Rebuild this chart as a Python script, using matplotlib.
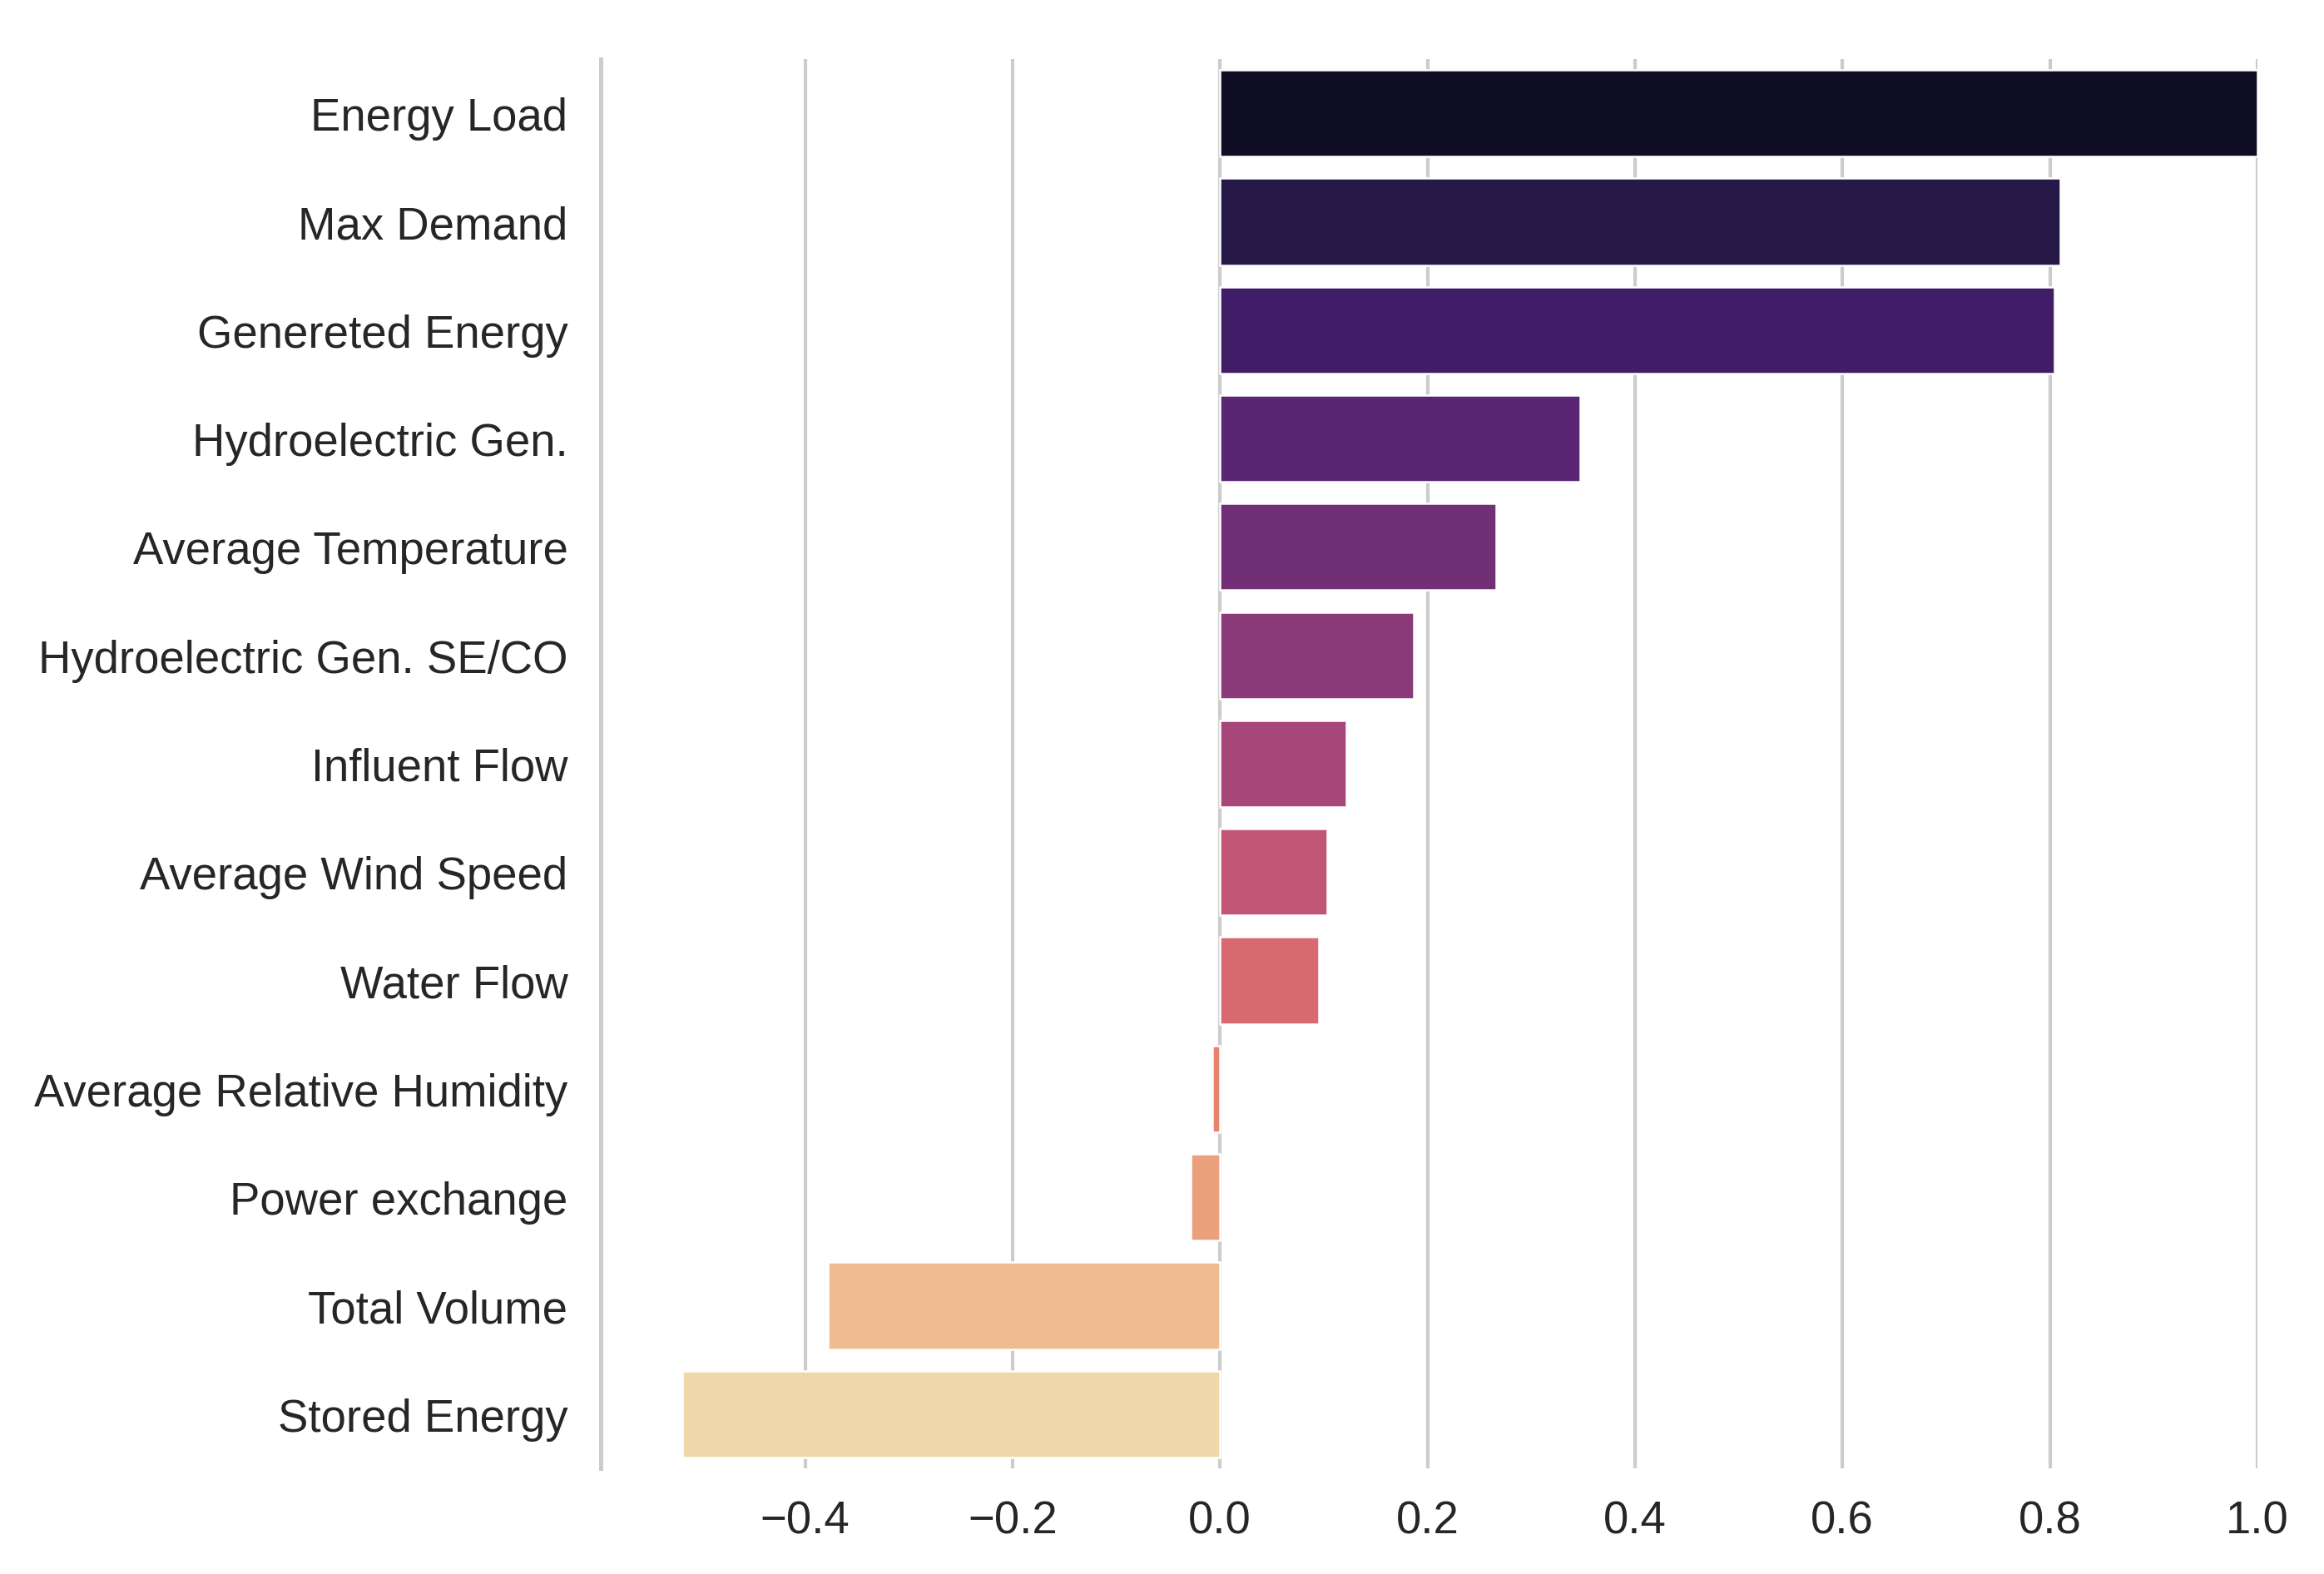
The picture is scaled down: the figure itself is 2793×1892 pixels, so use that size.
import numpy as np
import matplotlib
matplotlib.use("Agg")
import matplotlib.pyplot as plt
import seaborn as sns

features = ["Energy Load", "Max Demand", "Genereted Energy", "Hydroelectric Gen.",
            "Average Temperature", "Hydroelectric Gen. SE/CO", "Influent Flow",
            "Average Wind Speed", "Water Flow", "Average Relative Humidity",
            "Power exchange", "Total Volume", "Stored Energy"]
corr = [1.0, 0.81, 0.804, 0.347, 0.266, 0.187, 0.122,
        0.103, 0.095, -0.007, -0.028, -0.378, -0.518]
xticks = [-0.4, -0.2, 0.0, 0.2, 0.4, 0.6, 0.8, 1.0]

sns.set_style("whitegrid")
plt.rcParams['font.family'] = ['Liberation Sans', 'DejaVu Sans']

fig = plt.figure(figsize=(2793 / 300, 1893 / 300), dpi=300)
ax = fig.add_axes([0.2585, 0.0671, 0.9713 - 0.2585, 0.962 - 0.0671])

sns.barplot(x=corr, y=features, hue=features, palette="magma", legend=False,
            ax=ax, edgecolor="white", linewidth=0.6)

ax.set_xlim(-0.597, 1.0)
ax.set_xticks(xticks)
ax.set_xticklabels([f"{t:.1f}".replace("-", "\u2212") for t in xticks])
ax.grid(axis="x", color="#cccccc", linewidth=1.0)
ax.grid(axis="y", visible=False)
ax.set_axisbelow(True)

for s in ["top", "right", "bottom"]:
    ax.spines[s].set_visible(False)
ax.spines["left"].set_color("#cccccc")
ax.spines["left"].set_linewidth(1.2)

ax.tick_params(axis="y", labelsize=13.1, pad=9.5, length=0, colors="#262626")
ax.tick_params(axis="x", labelsize=13.1, pad=9, length=0, colors="#262626")
ax.set_xlabel("")
ax.set_ylabel("")

fig.savefig("out.png", dpi=300)
